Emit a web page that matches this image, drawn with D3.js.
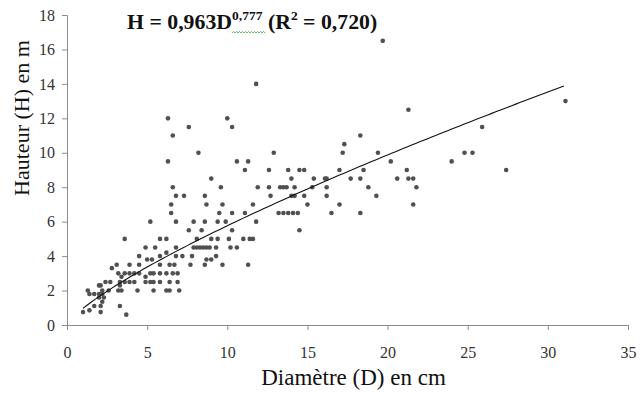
<!DOCTYPE html>
<html><head><meta charset="utf-8">
<script src="https://cdn.jsdelivr.net/npm/d3@7"></script>
<style>
html,body{margin:0;padding:0;background:#fff;}
svg{display:block;}
</style></head>
<body>
<svg id="chart" width="643" height="394"></svg>
<script>
// ---- data ----
const diametre = [
  19.7,
  11.8,
  31.1,
  21.3,
  6.3, 10.0,
  7.6, 10.3, 25.9,
  6.6, 18.3,
  17.3,
  8.2, 12.9, 17.2, 19.4, 24.8, 25.3,
  6.3, 10.6, 11.3, 20.2, 24.0,
  11.1, 12.6, 13.8, 14.5, 14.8, 17.0, 18.5, 21.2, 27.4,
  9.0, 14.0, 15.4, 16.1, 16.2, 17.7, 18.3, 20.6, 21.3, 21.6,
  6.6, 9.6, 11.9, 12.6, 13.3, 13.5, 13.7, 14.2, 15.3, 16.2, 18.8, 21.8,
  6.8, 7.3, 8.6, 12.7, 14.0, 14.2, 14.8, 16.2, 19.3,
  6.5, 8.7, 9.7, 11.6, 15.0, 17.0, 21.6,
  6.5, 9.5, 10.3, 11.1, 13.2, 13.5, 13.8, 14.1, 14.4, 16.5, 18.3,
  5.2, 6.8, 7.9, 8.6, 9.4, 9.9, 11.8,
  7.6, 8.4, 10.3, 14.5,
  3.6, 5.8, 6.2, 8.1, 9.0, 9.4, 10.1, 11.0, 11.4, 11.6,
  4.9, 5.5, 6.8, 7.9, 8.1, 8.3, 8.5, 8.7, 8.9, 9.3, 10.2, 10.6,
  6.2,
  4.5, 5.8, 6.8, 7.2, 7.8, 9.3,
  5.0, 5.3, 8.7, 9.0,
  3.1, 3.9, 4.5, 5.8, 6.4, 6.7, 7.7, 8.6, 9.7, 11.3,
  2.8,
  3.2, 3.6, 3.9, 4.2, 4.5, 5.2, 5.4, 5.8, 6.2, 6.6, 6.9,
  3.4, 4.9,
  2.4, 2.7, 3.3, 3.6, 3.9, 4.2, 4.9, 5.2, 5.4, 5.8, 6.4, 6.9,
  2.0, 2.1, 3.3,
  1.3, 2.2, 2.6, 3.2, 3.4, 4.4, 5.4, 6.2, 6.4, 7.0,
  1.4, 1.7, 2.0, 2.2,
  2.0, 2.3,
  2.2,
  1.7, 2.1, 3.3,
  1.4,
  1.0, 2.1,
  3.7
];
const hauteur = [
  16.5,
  14,
  13,
  12.5,
  12, 12,
  11.5, 11.5, 11.5,
  11, 11,
  10.5,
  10, 10, 10, 10, 10, 10,
  9.5, 9.5, 9.5, 9.5, 9.5,
  9, 9, 9, 9, 9, 9, 9, 9, 9,
  8.5, 8.5, 8.5, 8.5, 8.5, 8.5, 8.5, 8.5, 8.5, 8.5,
  8, 8, 8, 8, 8, 8, 8, 8, 8, 8, 8, 8,
  7.5, 7.5, 7.5, 7.5, 7.5, 7.5, 7.5, 7.5, 7.5,
  7, 7, 7, 7, 7, 7, 7,
  6.5, 6.5, 6.5, 6.5, 6.5, 6.5, 6.5, 6.5, 6.5, 6.5, 6.5,
  6, 6, 6, 6, 6, 6, 6,
  5.5, 5.5, 5.5, 5.5,
  5, 5, 5, 5, 5, 5, 5, 5, 5, 5,
  4.5, 4.5, 4.5, 4.5, 4.5, 4.5, 4.5, 4.5, 4.5, 4.5, 4.5, 4.5,
  4.2,
  4, 4, 4, 4, 4, 4,
  3.8, 3.8, 3.8, 3.8,
  3.5, 3.5, 3.5, 3.5, 3.5, 3.5, 3.5, 3.5, 3.5, 3.5,
  3.3,
  3, 3, 3, 3, 3, 3, 3, 3, 3, 3, 3,
  2.8, 2.8,
  2.5, 2.5, 2.5, 2.5, 2.5, 2.5, 2.5, 2.5, 2.5, 2.5, 2.5, 2.5,
  2.3, 2.3, 2.3,
  2, 2, 2, 2, 2, 2, 2, 2, 2, 2,
  1.8, 1.8, 1.8, 1.8,
  1.6, 1.6,
  1.35,
  1.1, 1.1, 1.1,
  0.85,
  0.75, 0.75,
  0.6
];
const xTicks = [0, 5, 10, 15, 20, 25, 30, 35];
const yTicks = [0, 2, 4, 6, 8, 10, 12, 14, 16, 18];
const coefA = 0.963, coefB = 0.777;   // H = a * D^b
const trendRange = [1.0, 31.0];
const xTitle = "Diamètre (D) en cm";
const yTitle = "Hauteur (H) en m";

// ---- drawing ----
const svg = d3.select("#chart");
const x = d3.scaleLinear().domain([0, 35]).range([67, 628]);
const y = d3.scaleLinear().domain([0, 18]).range([325, 15]);
const serif = "'Liberation Serif','Times New Roman',serif";
const axisColor = "#8c8c8c";

const gx = svg.append("g").attr("transform", `translate(0,${y(0)})`)
  .call(d3.axisBottom(x).tickValues(xTicks).tickSize(5).tickPadding(17).tickFormat(d3.format("d")));
const gy = svg.append("g").attr("transform", `translate(${x(0)},0)`)
  .call(d3.axisLeft(y).tickValues(yTicks).tickSize(5).tickPadding(7).tickFormat(d3.format("d")));
[gx, gy].forEach(g => {
  g.selectAll("path.domain").attr("stroke", axisColor).attr("stroke-width", 1);
  g.selectAll(".tick line").attr("stroke", axisColor);
  g.selectAll(".tick text").attr("font-family", serif).attr("font-size", 16).attr("fill", "#333");
});
gx.select("path.domain").attr("d", `M${x(0)},0.5H${x(35)}`);

// points
svg.append("g").selectAll("circle")
  .data(diametre.map((d, i) => [d, hauteur[i]]))
  .join("circle")
  .attr("cx", d => x(d[0])).attr("cy", d => y(d[1]))
  .attr("r", 2.3).attr("fill", "#505050");

// power trend line
const trend = d3.range(trendRange[0], trendRange[1] + 0.001, 0.25).map(d => [d, coefA * Math.pow(d, coefB)]);
svg.append("path").datum(trend)
  .attr("d", d3.line().x(d => x(d[0])).y(d => y(d[1])))
  .attr("fill", "none").attr("stroke", "#111").attr("stroke-width", 1.1);

// equation
const eq = svg.append("text").attr("x", 127).attr("y", 29)
  .attr("font-family", serif).attr("font-weight", "bold").attr("font-size", 21.8).attr("fill", "#111");
eq.append("tspan").text("H = 0,963D");
const supA = eq.append("tspan").attr("font-size", 13.5).attr("dy", -9).text("0,777");
eq.append("tspan").attr("dy", 9).text(" (R");
eq.append("tspan").attr("font-size", 13.5).attr("dy", -9).text("2");
eq.append("tspan").attr("dy", 9).text(" = 0,720)");
// spell-check style green wavy underline under the exponent
const startX = supA.node().getStartPositionOfChar(0).x;
const endX = supA.node().getEndPositionOfChar(4).x;
let wave = `M${startX},33`;
for (let px = startX; px < endX; px += 3) wave += ` l1.5,-1.5 l1.5,1.5`;
svg.append("path").attr("d", wave).attr("fill", "none").attr("stroke", "#3aa83a").attr("stroke-width", 0.8);

// axis titles
svg.append("text").attr("x", (x(0) + x(35)) / 2 + 6).attr("y", 385).attr("text-anchor", "middle")
  .attr("font-family", serif).attr("font-size", 23).attr("fill", "#111").text(xTitle);
svg.append("text").attr("transform", `translate(29,118) rotate(-90)`).attr("text-anchor", "middle")
  .attr("font-family", serif).attr("font-size", 22).attr("fill", "#111").text(yTitle);
</script>
</body></html>
